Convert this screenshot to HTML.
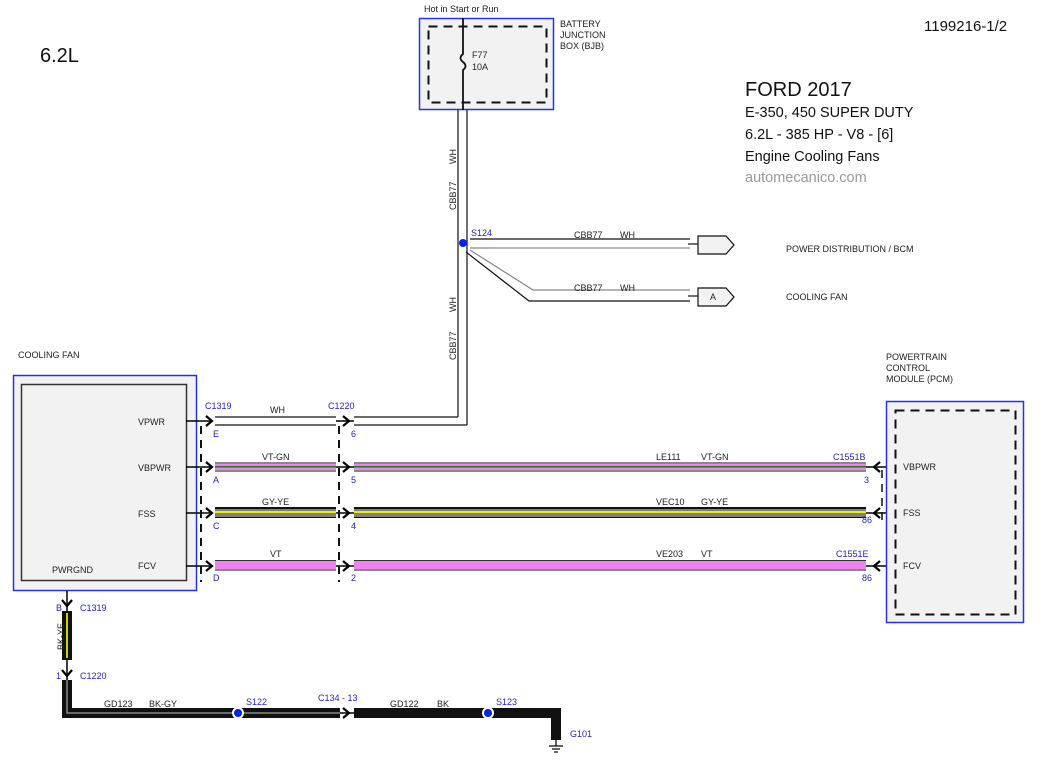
<!DOCTYPE html>
<html><head><meta charset="utf-8"><style>
html,body{margin:0;padding:0;background:#fff;}
svg{display:block;font-family:"Liberation Sans",Arial,sans-serif;}
.t{font-size:9px;fill:#222;}
.b{font-size:9px;fill:#2222cc;}
</style></head><body>
<svg width="1052" height="774" viewBox="0 0 1052 774" xmlns="http://www.w3.org/2000/svg">
<defs>
<g id="arR"><path d="M-4,-5 L2,0 L-4,5" fill="none" stroke="#000" stroke-width="2.2"/></g>
<g id="arL"><path d="M4,-5 L-2,0 L4,5" fill="none" stroke="#000" stroke-width="2.2"/></g>
<g id="arD"><path d="M-5,-4 L0,2 L5,-4" fill="none" stroke="#000" stroke-width="2.2"/></g>
</defs>

<!-- header texts -->
<text x="40" y="62" font-size="20" fill="#111">6.2L</text>
<text x="924" y="31" font-size="15" fill="#111">1199216-1/2</text>
<text x="745" y="96" font-size="20" fill="#111">FORD 2017</text>
<text x="745" y="117" font-size="14.5" fill="#111">E-350, 450 SUPER DUTY</text>
<text x="745" y="139" font-size="14.5" fill="#111">6.2L - 385 HP - V8 - [6]</text>
<text x="745" y="161" font-size="14.5" fill="#111">Engine Cooling Fans</text>
<text x="745" y="182" font-size="14.5" fill="#999">automecanico.com</text>

<!-- BJB -->
<text x="424" y="12" class="t" font-size="8.5">Hot in Start or Run</text>
<rect x="419.5" y="18.5" width="134" height="91" fill="#f2f2f2" stroke="#2233ee" stroke-width="1.5"/>
<rect x="428.5" y="26.5" width="118" height="76" fill="none" stroke="#111" stroke-width="2" stroke-dasharray="9,6"/>
<path d="M463,18 V54 Q458,58 463,62 Q468,66 463,70 V110" fill="none" stroke="#111" stroke-width="1.8"/>
<text x="472" y="58" class="t">F77</text>
<text x="472" y="70" class="t">10A</text>
<text x="560" y="27" class="t" font-size="8.5">BATTERY</text>
<text x="560" y="38" class="t" font-size="8.5">JUNCTION</text>
<text x="560" y="49" class="t" font-size="8.5">BOX (BJB)</text>

<!-- WH vertical wire -->
<line x1="458" y1="110" x2="458" y2="417" stroke="#111" stroke-width="1.2"/>
<line x1="467" y1="110" x2="467" y2="425" stroke="#111" stroke-width="1.2"/>
<text transform="translate(456,164) rotate(-90)" class="t" font-size="8.5">WH</text>
<text transform="translate(456,210) rotate(-90)" class="t" font-size="8.5">CBB77</text>
<text transform="translate(456,312) rotate(-90)" class="t" font-size="8.5">WH</text>
<text transform="translate(456,360) rotate(-90)" class="t" font-size="8.5">CBB77</text>

<!-- S124 branches -->
<line x1="470" y1="239" x2="690" y2="239" stroke="#111" stroke-width="1.2"/>
<line x1="470" y1="248" x2="690" y2="248" stroke="#888" stroke-width="1.2"/>
<path d="M470,250 L533,290 H690" fill="none" stroke="#888" stroke-width="1.2"/>
<path d="M466,252 L529,301 H690" fill="none" stroke="#111" stroke-width="1.2"/>
<circle cx="463" cy="243" r="4" fill="#0022ee"/>
<text x="471" y="236" class="b">S124</text>
<text x="574" y="238" class="t">CBB77</text><text x="620" y="238" class="t">WH</text>
<text x="574" y="291" class="t">CBB77</text><text x="620" y="291" class="t">WH</text>
<line x1="688" y1="244" x2="698" y2="244" stroke="#111" stroke-width="1.2"/>
<path d="M698,236 H726 L734,245 L726,254 H698 Z" fill="#f2f2f2" stroke="#111" stroke-width="1.2"/>
<line x1="688" y1="296" x2="698" y2="296" stroke="#111" stroke-width="1.2"/>
<path d="M698,288 H726 L734,297 L726,306 H698 Z" fill="#f2f2f2" stroke="#111" stroke-width="1.2"/>
<text x="710" y="300" class="t">A</text>
<text x="786" y="252" class="t" font-size="8.5">POWER DISTRIBUTION / BCM</text>
<text x="786" y="300" class="t" font-size="8.5">COOLING FAN</text>

<!-- Cooling fan module -->
<text x="18" y="358" class="t" font-size="8.5">COOLING FAN</text>
<rect x="13.5" y="375.5" width="183" height="215" fill="#f2f2f2" stroke="#2233ee" stroke-width="1.5"/>
<rect x="21.5" y="384.5" width="165" height="196" fill="#f2f2f2" stroke="#333" stroke-width="1.5"/>
<text x="138" y="425" class="t">VPWR</text>
<text x="138" y="471" class="t">VBPWR</text>
<text x="138" y="517" class="t">FSS</text>
<text x="138" y="569" class="t">FCV</text>
<text x="52" y="573" class="t">PWRGND</text>

<!-- pin stubs -->
<g stroke="#000" stroke-width="1.5">
<line x1="186" y1="421" x2="212" y2="421"/><line x1="186" y1="467" x2="212" y2="467"/>
<line x1="186" y1="513" x2="212" y2="513"/><line x1="186" y1="566" x2="212" y2="566"/>
<line x1="336" y1="421" x2="354" y2="421"/><line x1="336" y1="467" x2="354" y2="467"/>
<line x1="336" y1="513" x2="354" y2="513"/><line x1="336" y1="566" x2="354" y2="566"/>
<line x1="866" y1="467" x2="895" y2="467"/><line x1="866" y1="513" x2="895" y2="513"/>
<line x1="866" y1="566" x2="895" y2="566"/>
</g>
<use href="#arR" x="210" y="421"/><use href="#arR" x="210" y="467"/><use href="#arR" x="210" y="513"/><use href="#arR" x="210" y="566"/>
<use href="#arR" x="347" y="421"/><use href="#arR" x="347" y="467"/><use href="#arR" x="347" y="513"/><use href="#arR" x="347" y="566"/>
<use href="#arL" x="876" y="467"/><use href="#arL" x="876" y="513"/><use href="#arL" x="876" y="566"/>
<line x1="201" y1="426" x2="201" y2="582" stroke="#111" stroke-width="2" stroke-dasharray="8,6"/>
<line x1="339" y1="426" x2="339" y2="582" stroke="#111" stroke-width="2" stroke-dasharray="8,6"/>

<!-- WH wire -->
<line x1="215" y1="417" x2="336" y2="417" stroke="#111" stroke-width="1.2"/>
<line x1="215" y1="425" x2="336" y2="425" stroke="#111" stroke-width="1.2"/>
<line x1="354" y1="417" x2="458" y2="417" stroke="#111" stroke-width="1.2"/>
<line x1="354" y1="425" x2="467" y2="425" stroke="#111" stroke-width="1.2"/>

<!-- VT-GN -->
<g>
<rect x="215" y="462" width="121" height="10" fill="#888"/><rect x="215" y="464" width="121" height="6" fill="#ee82ee"/><rect x="215" y="466" width="121" height="1.5" fill="#227722"/>
<rect x="354" y="462" width="512" height="10" fill="#888"/><rect x="354" y="464" width="512" height="6" fill="#ee82ee"/><rect x="354" y="466" width="512" height="1.5" fill="#227722"/>
</g>
<!-- GY-YE -->
<g>
<rect x="215" y="507" width="121" height="11" fill="#111"/><rect x="215" y="509" width="121" height="8" fill="#808080"/><rect x="215" y="511" width="121" height="2" fill="#eeee00"/>
<rect x="354" y="507" width="512" height="11" fill="#111"/><rect x="354" y="509" width="512" height="8" fill="#808080"/><rect x="354" y="511" width="512" height="2" fill="#eeee00"/>
</g>
<!-- VT -->
<g>
<rect x="215" y="561" width="121" height="10" fill="#888"/><rect x="215" y="561" width="121" height="8" fill="#ee82ee"/><rect x="215" y="560" width="121" height="1" fill="#333"/>
<rect x="354" y="561" width="512" height="10" fill="#888"/><rect x="354" y="561" width="512" height="8" fill="#ee82ee"/><rect x="354" y="560" width="512" height="1" fill="#333"/>
</g>

<!-- wire labels -->
<text x="205" y="409" class="b">C1319</text><text x="328" y="409" class="b">C1220</text>
<text x="270" y="413" class="t">WH</text>
<text x="213" y="437" class="b">E</text><text x="351" y="437" class="b">6</text>
<text x="262" y="460" class="t">VT-GN</text>
<text x="213" y="483" class="b">A</text><text x="351" y="483" class="b">5</text>
<text x="262" y="505" class="t">GY-YE</text>
<text x="213" y="529" class="b">C</text><text x="351" y="529" class="b">4</text>
<text x="270" y="557" class="t">VT</text>
<text x="213" y="581" class="b">D</text><text x="351" y="581" class="b">2</text>
<text x="656" y="460" class="t">LE111</text><text x="701" y="460" class="t">VT-GN</text>
<text x="833" y="460" class="b">C1551B</text><text x="864" y="483" class="b">3</text>
<text x="656" y="505" class="t">VEC10</text><text x="701" y="505" class="t">GY-YE</text>
<text x="862" y="523" class="b">86</text>
<text x="656" y="557" class="t">VE203</text><text x="701" y="557" class="t">VT</text>
<text x="836" y="557" class="b">C1551E</text><text x="862" y="581" class="b">86</text>

<!-- PCM -->
<text x="886" y="360" class="t" font-size="8.5">POWERTRAIN</text>
<text x="886" y="371" class="t" font-size="8.5">CONTROL</text>
<text x="886" y="382" class="t" font-size="8.5">MODULE (PCM)</text>
<rect x="886.5" y="401.5" width="137" height="221" fill="#f2f2f2" stroke="#2233ee" stroke-width="1.5"/>
<rect x="895.5" y="410.5" width="120" height="204" fill="none" stroke="#111" stroke-width="2" stroke-dasharray="9,6"/>
<line x1="882" y1="470" x2="882" y2="520" stroke="#111" stroke-width="1.5" stroke-dasharray="8,6"/>
<text x="903" y="470" class="t">VBPWR</text>
<text x="903" y="516" class="t">FSS</text>
<text x="903" y="569" class="t">FCV</text>

<!-- ground -->
<line x1="67" y1="591" x2="67" y2="612" stroke="#000" stroke-width="1.5"/>
<use href="#arD" x="67" y="604"/>
<rect x="62" y="611" width="10" height="49" fill="#111"/><rect x="66" y="613" width="2" height="45" fill="#cccc00"/>
<line x1="67" y1="660" x2="67" y2="682" stroke="#000" stroke-width="1.5"/>
<use href="#arD" x="67" y="674"/>
<text x="56" y="611" class="b">B</text><text x="80" y="611" class="b">C1319</text>
<text transform="translate(64,650) rotate(-90)" class="t" font-size="8.5">BK-YE</text>
<text x="56" y="679" class="b">1</text><text x="80" y="679" class="b">C1220</text>
<path d="M62,680 H72 V708 H340 V718 H62 Z" fill="#111"/>
<path d="M67,680 V713 H340" fill="none" stroke="#888" stroke-width="1.5"/>
<line x1="340" y1="713" x2="354" y2="713" stroke="#000" stroke-width="1.5"/>
<use href="#arR" x="347" y="713"/>
<path d="M354,708 H561 V740 H551 V718 H354 Z" fill="#111"/>
<circle cx="238" cy="713" r="6" fill="#fff"/><circle cx="238" cy="713" r="4" fill="#0022ee"/>
<circle cx="488" cy="713" r="6" fill="#fff"/><circle cx="488" cy="713" r="4" fill="#0022ee"/>
<line x1="556" y1="740" x2="556" y2="746" stroke="#000" stroke-width="1.2"/>
<line x1="549" y1="746" x2="563" y2="746" stroke="#000" stroke-width="1.2"/>
<line x1="552" y1="749" x2="560" y2="749" stroke="#000" stroke-width="1.2"/>
<line x1="554" y1="752" x2="558" y2="752" stroke="#000" stroke-width="1.2"/>
<text x="104" y="707" class="t">GD123</text><text x="149" y="707" class="t">BK-GY</text>
<text x="246" y="705" class="b">S122</text>
<text x="318" y="701" class="b">C134  - 13</text>
<text x="390" y="707" class="t">GD122</text><text x="437" y="707" class="t">BK</text>
<text x="496" y="705" class="b">S123</text>
<text x="570" y="737" class="b">G101</text>
</svg>
</body></html>
